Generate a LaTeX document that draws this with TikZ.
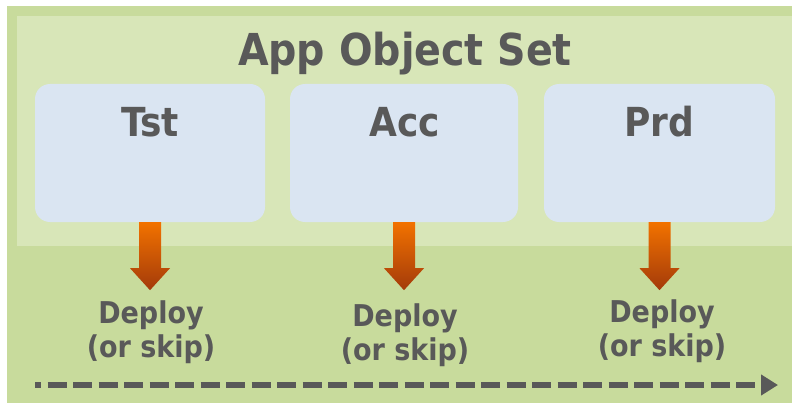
\documentclass[tikz,border=0pt]{standalone}
\usepackage{fontspec}
\setmainfont{DejaVu Sans Condensed}
\usetikzlibrary{arrows.meta,calc}
\definecolor{outergreen}{HTML}{C8DB9C}
\definecolor{innergreen}{HTML}{D8E6B8}
\definecolor{boxblue}{HTML}{DAE5F2}
\definecolor{txtgray}{HTML}{595959}
\definecolor{arrowtop}{HTML}{F27200}
\definecolor{arrowbot}{HTML}{A33A0A}
\tikzset{
  envbox/.style={draw=none,fill=boxblue,rounded corners=15pt,inner sep=0pt},
  envlabel/.style={text=txtgray,font=\bfseries\fontsize{40}{44}\selectfont,anchor=base,inner sep=0pt},
  deploylabel/.style={text=txtgray,font=\bfseries\fontsize{30}{34}\selectfont,align=center,anchor=north,inner sep=0pt},
  deployarrow/.style={top color=arrowtop,bottom color=arrowbot,draw=none},
  timeline/.style={draw=txtgray,line width=5.5pt,dash pattern=on 19pt off 6.5pt,dash phase=13pt,
    -{Triangle[length=17pt,width=20pt]}}
}
\begin{document}
\begin{tikzpicture}[x=1pt,y=-1pt]
\useasboundingbox (0,0) rectangle (792,406);
\fill[white] (0,0) rectangle (792,406);
% backgrounds
\fill[outergreen] (7,6) rectangle (792,403);
\fill[innergreen] (17,16) rectangle (792,246);
% title
\node[text=txtgray,font=\bfseries\fontsize{44}{48}\selectfont,anchor=base,inner sep=0pt] (title) at (405,65.5) {App Object Set};
% environment boxes
\node[envbox,minimum width=230pt,minimum height=138pt] (tst) at (150,153) {};
\node[envbox,minimum width=228pt,minimum height=138pt] (acc) at (404,153) {};
\node[envbox,minimum width=231pt,minimum height=138pt] (prd) at (659.5,153) {};
\node[envlabel] (tstl) at (150,136.5) {Tst};
\node[envlabel] (accl) at (405,136.5) {Acc};
\node[envlabel] (prdl) at (659,136.5) {Prd};
% deploy arrows
\foreach \b in {tst,acc,prd}{
  \shade[deployarrow] ($(\b.south)+(-11,0)$) -- ++(0,46) -- ++(-9,0) -- ++(20,22) -- ++(20,-22) -- ++(-9,0) -- ++(0,-46) -- cycle;
}
% deploy labels
\node[deploylabel] (d1) at (151,301) {Deploy\\(or skip)};
\node[deploylabel] (d2) at (405,304) {Deploy\\(or skip)};
\node[deploylabel] (d3) at (662,300) {Deploy\\(or skip)};
% timeline
\coordinate (tstart) at (35,385);
\coordinate (tend) at (778,385);
\draw[timeline] (tstart) -- (tend);
\end{tikzpicture}
\end{document}
